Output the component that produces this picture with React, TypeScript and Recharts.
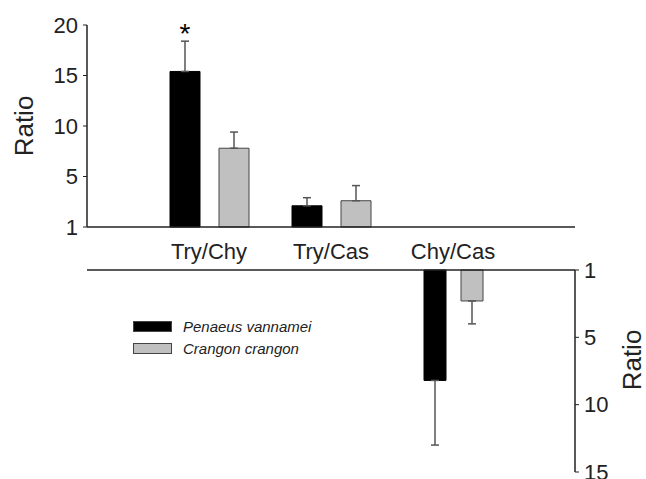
import { BarChart, Bar, XAxis, YAxis, ErrorBar, LabelList, Legend } from 'recharts';

const categories = ['Try/Chy', 'Try/Cas', 'Chy/Cas'];
// which half of the figure each ratio is drawn in
const panel = ['up', 'up', 'down'];
const seriesNames = ['Penaeus vannamei', 'Crangon crangon'];
const vannamei = [15.4, 2.1, 8.2];
const vannameiErr = [3.0, 0.8, 4.8];
const crangon = [7.8, 2.6, 2.3];
const crangonErr = [1.6, 1.5, 1.7];
const marks = ['*', '', ''];
const topTicks = [0, 5, 10, 15, 20];
const bottomTicks = [0, 5, 10, 15];

const font = 'Arial, "Liberation Sans", sans-serif';
const ink = '#222';

const rows = (side: string) =>
  categories.map((name, i) => {
    const on = panel[i] === side;
    return {
      name,
      pv: on ? vannamei[i] : null,
      pvErr: on ? [0, vannameiErr[i]] : null,
      cc: on ? crangon[i] : null,
      ccErr: on ? [0, crangonErr[i]] : null,
      mark: on ? marks[i] : '',
    };
  });

const topData = rows('up');
const bottomData = rows('down');

const tickLabel = (v: number) => (v === 0 ? '1' : String(v));

const CatTick = ({ x, y, payload }: any) => (
  <text x={x} y={y + 32} textAnchor="middle" fontSize={22} fill={ink} fontFamily={font}>
    {payload.value}
  </text>
);

const AxisTitle = ({ viewBox, side }: any) => {
  const { x, y, width, height } = viewBox;
  const cx = side === 'left' ? x - 3 : x + width - 3;
  const cy = y + height / 2 + (side === 'left' ? 0 : -11);
  return (
    <text
      x={cx}
      y={cy}
      transform={`rotate(-90 ${cx} ${cy})`}
      textAnchor="middle"
      dominantBaseline="central"
      fontSize={26}
      fill={ink}
      fontFamily={font}
    >
      Ratio
    </text>
  );
};

const Star = ({ x, y, width, height, value, index }: any) => {
  if (!value) return null;
  const perUnit = height / vannamei[index];
  const top = y - vannameiErr[index] * perUnit;
  return (
    <text x={x + width / 2} y={top + 2} textAnchor="middle" fontSize={28} fill="#000" fontFamily={font}>
      {value}
    </text>
  );
};

const LegendBox = ({ payload }: any) => {
  const items = [...(payload || [])].sort(
    (a: any, b: any) => seriesNames.indexOf(a.value) - seriesNames.indexOf(b.value)
  );
  return (
    <div style={{ fontFamily: font }}>
      {items.map((p: any) => (
        <div key={p.value} style={{ display: 'flex', alignItems: 'center', height: 21.5 }}>
          <span
            style={{
              display: 'inline-block',
              width: 37,
              height: 9,
              background: p.color,
              border: '1px solid #444',
              marginRight: 11,
            }}
          />
          <span style={{ fontStyle: 'italic', fontSize: 15, color: ink }}>{p.value}</span>
        </div>
      ))}
    </div>
  );
};

export default function App() {
  return (
    <div style={{ position: 'absolute', left: 0, top: 0, width: 646, height: 479, overflow: 'hidden', background: '#fff' }}>
      <div style={{ position: 'absolute', left: 0, top: 0 }}>
        <BarChart
          width={646}
          height={500}
          data={bottomData}
          margin={{ top: 269, right: 11, left: 87, bottom: 28 }}
          barGap={15}
        >
          <XAxis
            dataKey="name"
            orientation="top"
            height={1}
            tick={false}
            tickLine={false}
            axisLine={{ stroke: ink, strokeWidth: 1.5 }}
            padding={{ left: 61, right: 61 }}
          />
          <YAxis
            orientation="right"
            reversed
            domain={[0, 15]}
            ticks={bottomTicks}
            tickFormatter={tickLabel}
            width={60}
            tickSize={4}
            tickMargin={5}
            axisLine={{ stroke: ink, strokeWidth: 1.5 }}
            tickLine={{ stroke: ink }}
            tick={{ fontSize: 22, fill: ink, fontFamily: font }}
            label={<AxisTitle side="right" />}
          />
          <Legend
            layout="vertical"
            align="center"
            verticalAlign="middle"
            wrapperStyle={{ left: 133, top: 316, width: 'auto' }}
            content={<LegendBox />}
          />
          <Bar dataKey="pv" name={seriesNames[0]} fill="#000" stroke="#000" barSize={22} isAnimationActive={false}>
            <ErrorBar dataKey="pvErr" direction="y" width={4} stroke="#555" strokeWidth={1.5} />
          </Bar>
          <Bar dataKey="cc" name={seriesNames[1]} fill="#c0c0c0" stroke="#444" barSize={22} isAnimationActive={false}>
            <ErrorBar dataKey="ccErr" direction="y" width={4} stroke="#555" strokeWidth={1.5} />
          </Bar>
        </BarChart>
      </div>
      <div style={{ position: 'absolute', left: 0, top: 0 }}>
        <BarChart
          width={646}
          height={280}
          data={topData}
          margin={{ top: 25, right: 71, left: 27, bottom: 23 }}
          barGap={19}
        >
          <XAxis
            dataKey="name"
            height={30}
            tickLine={false}
            tickSize={0}
            tickMargin={0}
            axisLine={{ stroke: ink, strokeWidth: 1.5 }}
            tick={<CatTick />}
            padding={{ left: 61, right: 61 }}
          />
          <YAxis
            domain={[0, 20]}
            ticks={topTicks}
            tickFormatter={tickLabel}
            width={60}
            tickSize={4}
            tickMargin={5}
            axisLine={{ stroke: ink, strokeWidth: 1.5 }}
            tickLine={{ stroke: ink }}
            tick={{ fontSize: 22, fill: ink, fontFamily: font }}
            label={<AxisTitle side="left" />}
          />
          <Bar dataKey="pv" name={seriesNames[0]} fill="#000" stroke="#000" barSize={30} isAnimationActive={false}>
            <ErrorBar dataKey="pvErr" direction="y" width={4} stroke="#555" strokeWidth={1.5} />
            <LabelList dataKey="mark" content={<Star />} />
          </Bar>
          <Bar dataKey="cc" name={seriesNames[1]} fill="#c0c0c0" stroke="#444" barSize={30} isAnimationActive={false}>
            <ErrorBar dataKey="ccErr" direction="y" width={4} stroke="#555" strokeWidth={1.5} />
          </Bar>
        </BarChart>
      </div>
    </div>
  );
}
